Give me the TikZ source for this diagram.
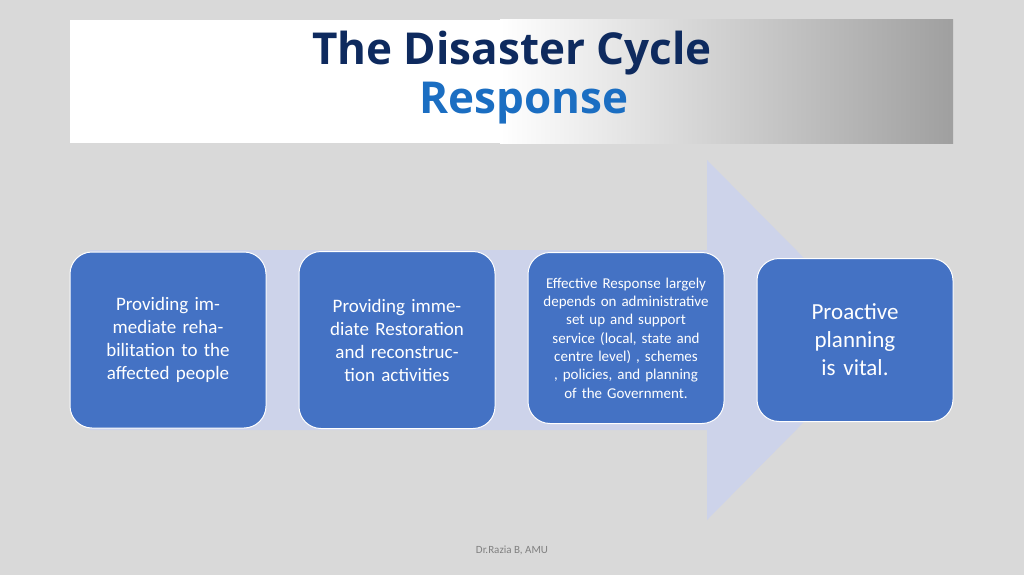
\documentclass[tikz,border=0pt]{standalone}
\usepackage{fontspec}
\setmainfont{Carlito}
\newfontfamily\titlefont{Open Sans}
\usetikzlibrary{positioning}
\definecolor{bgGray}{HTML}{D9D9D9}
\definecolor{arrowLav}{HTML}{CDD3EA}
\definecolor{boxBlue}{HTML}{4472C4}
\definecolor{titleNavy}{HTML}{0E2A5E}
\definecolor{titleBlue}{HTML}{1B6EC2}

\tikzset{
  phase/.style={draw=white, line width=1pt, fill=boxBlue, rounded corners=22pt,
    text=white, align=center, minimum width=196pt, text width=150pt},
}

\begin{document}
\begin{tikzpicture}[x=1pt,y=-1pt]
\fill[bgGray] (0,0) rectangle (1024,575);
\useasboundingbox (0,0) rectangle (1024,575);

%title band
\fill[white] (70,20) rectangle (500,143);
\shade[left color=white, right color=gray!75] (500,20) rectangle (953,143);
\node[font=\titlefont\bfseries\fontsize{44}{48}\selectfont, text=titleNavy] (title) at (512,53) {The Disaster Cycle};
\node[font=\titlefont\bfseries\fontsize{44}{48}\selectfont, text=titleBlue] (sub) at (524,103) {Response};

%big arrow
\fill[arrowLav] (90,250) -- (707,250) -- (707,160) -- (885,340) -- (707,520) -- (707,430) -- (90,430) -- cycle;

\node[phase, minimum height=176pt, font=\fontsize{19}{23}\selectfont] (s1) at (168,340)
  {Providing immediate rehabilitation to the affected people};
\node[phase, minimum height=177pt, font=\fontsize{19}{23}\selectfont] (s2) at (397,340)
  {Providing immediate Restoration and reconstruction activities};
\node[phase, minimum height=171pt, text width=176pt, font=\fontsize{15}{18.3}\selectfont] (s3) at (626,338)
  {Effective Response largely\ \ depends on administrative set up and support service (local, state and centre level) , schemes , policies, and planning of the Government.};
\node[phase, minimum height=163pt, font=\fontsize{23}{28}\selectfont] (s4) at (855,340)
  {Proactive planning is vital.};

\node[font=\fontsize{11}{13}\selectfont, text=gray] (foot) at (512,550) {Dr.Razia B, AMU};
\end{tikzpicture}
\end{document}
